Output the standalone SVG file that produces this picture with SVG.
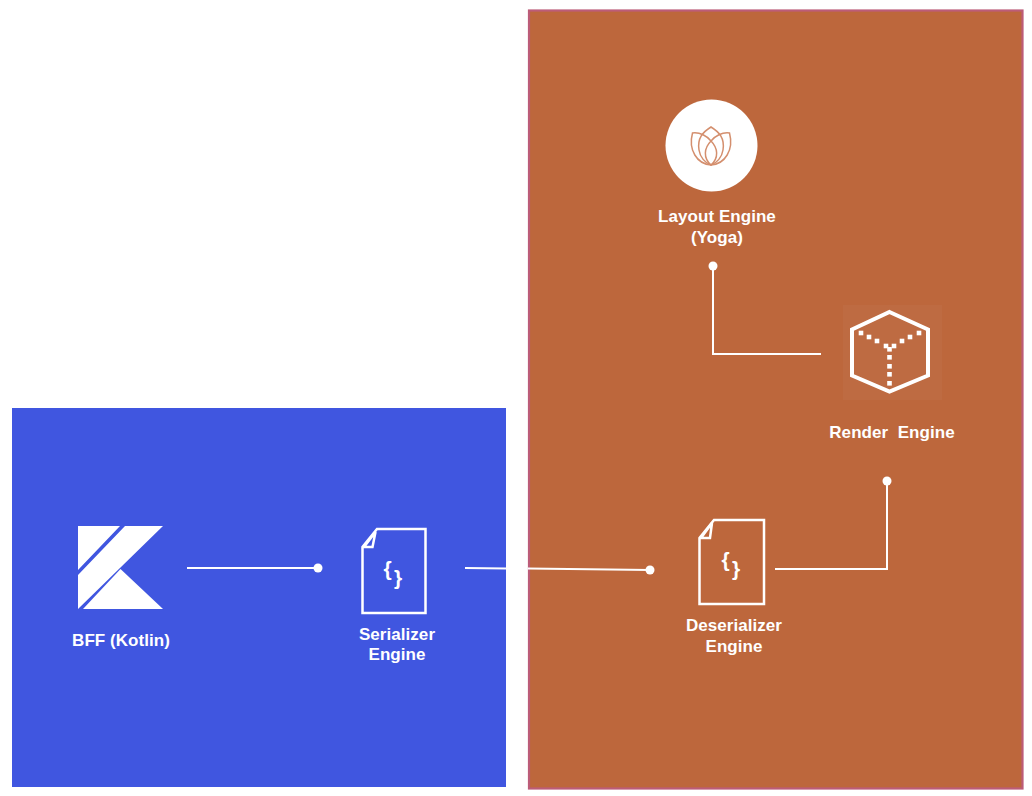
<svg xmlns="http://www.w3.org/2000/svg" width="1032" height="796" viewBox="0 0 1032 796">
<style>
text{font-family:"Liberation Sans",Arial,sans-serif;font-size:17px;font-weight:700;fill:#fff;text-anchor:middle;letter-spacing:.05px;white-space:pre}
.ln{fill:none;stroke:#fff;stroke-width:2}
.doc{fill:none;stroke:#fff;stroke-width:2.5;stroke-linejoin:miter}
.br{font-size:21px;font-weight:700}
.lotus{fill:none;stroke:#D48F6E;stroke-width:1.5}
.dots rect{fill:#fff;width:4.600px;height:4.600px}
</style>
<rect width="1032" height="796" fill="#fff"/>
<rect id="bff-zone" x="12" y="408" width="494" height="379" fill="#4056E0"/>
<rect id="client-zone" x="529" y="10.500" width="493.500" height="778" fill="#BD673C" stroke="#BC5C78" stroke-width="2.200"/>
<g id="connectors">
<path class="ln" d="M187 568H318"/>
<circle cx="318" cy="568" r="4.500" fill="#fff"/>
<path class="ln" d="M465 568L506 568.400M528 568.600L650 570"/>
<circle cx="650" cy="570" r="4.500" fill="#fff"/>
<path class="ln" d="M775 569H887V481"/>
<circle cx="887" cy="481" r="4.500" fill="#fff"/>
<path class="ln" d="M821 354H713V266"/>
<circle cx="713" cy="266" r="4.500" fill="#fff"/>
</g>
<g id="bff">
<path fill="#fff" d="M78 526H120L78 570ZM125 526H163L78 609V575ZM83 609L120.500 569L163 609Z"/>
<text x="121" y="646">BFF (Kotlin)</text>
</g>
<g id="serializer">
<path class="doc" d="M377 529H425.500V613H362.500V547Z"/>
<path class="doc" d="M375.500 532L364 547L372.500 547Z"/>
<text class="br" x="387.500" y="576">{</text>
<text class="br" x="398" y="585">}</text>
<text x="397" y="640">Serializer</text>
<text x="397" y="660">Engine</text>
</g>
<g id="deserializer">
<path class="doc" d="M714 520H764V604H699.500V538Z"/>
<path class="doc" d="M712 523L701 538L710 538Z"/>
<text class="br" x="725.500" y="567">{</text>
<text class="br" x="736" y="576">}</text>
<text x="734" y="631">Deserializer</text>
<text x="734" y="652">Engine</text>
</g>
<g id="layout">
<circle cx="711.500" cy="145.500" r="46" fill="#fff"/>
<g class="lotus">
<path d="M711 127C703 132 697 138 699 150C700 157 705 163 711 165C717 163 722 157 723 150C725 138 719 132 711 127Z"/>
<path d="M711 141C704 148 703 158 711 165C719 158 718 148 711 141Z"/>
<path d="M711 141C707 136 700 132 692.500 133C688 150 697 164 711 165C725 164 734 150 729.500 133C722 132 715 136 711 141"/>
</g>
<text x="717" y="222">Layout Engine</text>
<text x="717" y="243">(Yoga)</text>
</g>
<g id="render">
<rect x="843" y="305" width="99" height="95" fill="#BE6B42"/>
<path d="M889.500 312L928 329.500V375.500L889.500 391.500L852 375.500V329.500Z" fill="none" stroke="#fff" stroke-width="4"/>
<g class="dots">
<rect x="858.700" y="330.700"/><rect x="866.700" y="334.700"/><rect x="874.700" y="338.700"/><rect x="883.700" y="343.700"/>
<rect x="887.200" y="347"/><rect x="891.700" y="343.700"/><rect x="899.700" y="338.700"/><rect x="907.700" y="334.700"/><rect x="916.700" y="330.700"/>
<rect x="887.200" y="355"/><rect x="887.200" y="364"/><rect x="887.200" y="372"/><rect x="887.200" y="381"/>
</g>
<text x="892" y="438">Render  Engine</text>
</g>
</svg>
